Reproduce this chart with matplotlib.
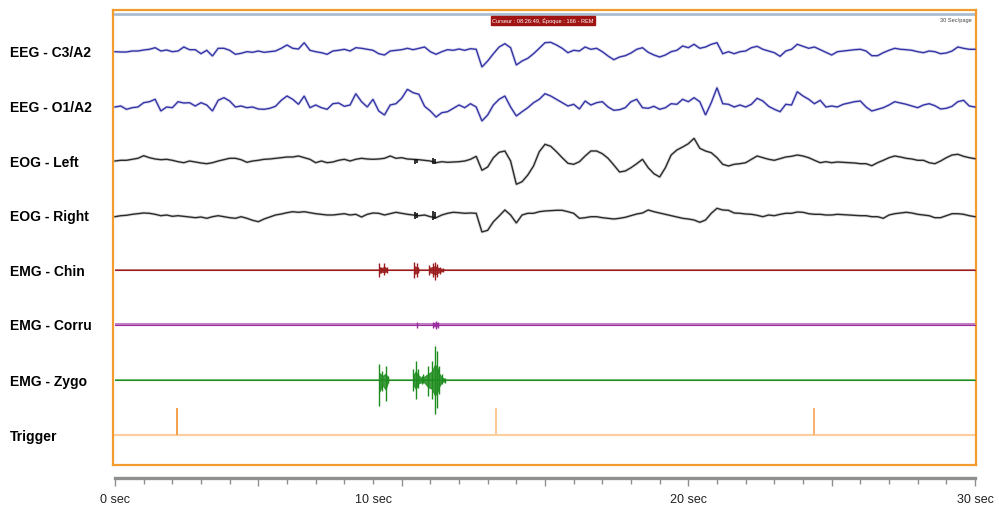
import numpy as np
import matplotlib
matplotlib.use("Agg")
import matplotlib.pyplot as plt
from matplotlib.transforms import blended_transform_factory, offset_copy

# ---------------- data (amplitudes in uV, sampled every DT seconds) ----------------
DT = 0.2
eeg_c3 = [-7, -10, -10, 0, 0, 10, 17, 33, 0, 10, -7, 0, 40, 13, 13, -27, 7, -50, 27, 27,
          7, -33, -23, -7, -13, 0, -13, -7, 0, 27, 60, 27, 20, 83, 7, -7, -17, -33,
          0, 7, 17, 0, 33, 27, 17, 7, -27, -40, 0, 7, 13, 27, 13, 27, 40, -7, -33, -7,
          13, 7, 20, 7, 23, 17, -160, -100, -27, 40, 73, 33, -140, -100, -73, -27, 27, 83,
          87, 60, 27, -17, 7, 0, 40, 17, 27, -7, -50, -87, -60, -47, -20, 17, 33, -13, -40, -60,
          -40, -7, 7, 50, 33, 67, 27, 40, 67, 83, -27, -7, -27, -7, 0, 33, 47, 17,
          0, -17, -53, 0, 17, 67, 47, 27, 40, 13, -13, -40, -7, 0, 7, 13, 17, 0, -47, -47,
          -17, 7, 27, 17, 13, 7, -7, -17, 0, -7, -27, -20, 0, 40, 27, 17, 17]
eeg_o1 = [-10, 0, -33, -17, -10, 33, 43, 67, -50, -10, -17, 43, 30, 33, 0, 33, 10, -50, 57, 83,
          50, -10, 0, -17, -10, -30, -33, -23, -3, 57, 100, 67, 17, 100, -17, 10, -17, -33,
          23, 30, -3, 10, 123, 43, -10, 67, -50, -90, 10, 23, 77, 167, 133, 117, -3, -50, -110, -67,
          -57, -23, 10, -17, 23, -10, -150, -90, 10, 67, 100, -10, -100, -57, -17, 33, 67, 123,
          100, 67, 33, 0, 17, -30, 50, 10, 33, 43, -10, -43, -37, -17, 43, 67, -17, -23, -3, -33,
          -17, 23, 17, 67, 43, 83, 43, -90, 33, 183, 23, 17, -10, 10, -10, 17, 77, 50,
          -3, -33, -57, 17, 10, 143, 100, 67, 23, 57, -10, 0, -10, 17, 30, 43, 50, -10, -50, -33,
          -17, 10, 43, 30, 17, 0, -17, 10, 23, 3, -30, -23, -3, 43, 57, 0, -10]
eog_left = [0, 7, 7, 17, 27, 53, 33, 20, 13, 17, 7, -7, -17, 0, -10, -20, -27, -17, 0, 13,
            27, 27, 13, -13, 0, 7, 17, 20, 27, 33, 40, 40, 50, 33, 17, -17, 0, -17,
            -10, 7, 17, 0, 17, 27, 20, 17, 20, 27, 50, 27, 33, 20, 17, 13, 7, 0, -17, -7,
            -13, -10, -7, 0, 17, 47, -93, -60, 33, 87, 100, 0, -233, -207, -140, -50, 93, 167,
            147, 93, 33, -23, -33, -7, 50, 100, 100, 73, 27, -40, -110, -100, -67, -27, 17, -67, -127, -160,
            -67, 60, 110, 140, 173, 227, 127, 100, 83, 33, -33, -50, -33, -27, -17, 17, 50, 33,
            17, 7, 23, 40, 47, 60, 50, 33, 7, -17, -7, -17, -10, -13, -17, -20, -27, -27, -47, -17,
            7, 33, 50, 40, 27, 20, 7, 7, -17, -27, 0, 33, 60, 67, 47, 33, 23]
eog_right = [-17, -7, -3, 7, 13, 20, 17, 7, -7, 0, -13, -7, -13, -20, -27, -20, -33, -17, -7, -17,
             -27, -33, -17, -33, -53, -67, -40, -20, 0, 10, 23, 33, 27, 33, 23, 13, 7, 0,
             0, 7, 13, 0, 7, -20, 7, 20, 17, 0, 13, 27, 17, 7, 0, -7, 0, -17, -27, 0,
             17, 27, 23, 17, 20, 17, -170, -153, -67, -10, 50, 0, -80, 0, 17, 17, 33, 40,
             43, 47, 47, 33, 17, -33, -27, -17, -17, -27, -33, -40, -33, -23, -7, 10, 20, 50, 33, 20,
             7, -7, -20, -33, -40, -50, -73, -50, 17, 67, 50, 47, 20, 17, 10, 7, -3, -17,
             0, -7, 7, 17, 17, 30, 27, 13, 7, 7, 0, 0, 7, 3, 0, -3, -7, -7, -17, -17,
             -33, 0, 13, 20, 27, 20, 7, 0, -7, -27, -27, -7, 13, 13, 7, -7, -17]

# EMG bursts: spike times (s), upward and downward excursion (uV)
chin_t = [9.22, 9.28, 9.40, 9.48, 10.44, 10.52, 10.58, 10.97, 11.08, 11.16, 11.24, 11.34, 11.45]
chin_up = [67, 33, 73, 27, 83, 67, 33, 50, 67, 83, 60, 33, 17]
chin_dn = [67, 33, 50, 27, 83, 67, 33, 50, 67, 100, 67, 40, 17]
corru_t = [10.52, 11.10, 11.19, 11.27]
corru_up = [30, 30, 40, 30]
corru_dn = [30, 33, 43, 33]
zygo_t = [9.22, 9.33, 9.44, 9.53, 10.41, 10.49, 10.58, 10.70, 10.75,
          10.93, 11.05, 11.16, 11.24, 11.31, 11.40, 11.51]
zygo_up = [157, 90, 140, 40, 107, 190, 107, 40, 57, 140, 190, 340, 290, 140, 57, 23]
zygo_dn = [260, 110, 210, 30, 110, 193, 77, 43, 27, 160, 193, 343, 277, 143, 43, 27]
eogl_art_t = [10.46, 10.52, 11.08, 11.16]
eogl_art_a = [25, 20, 30, 25]
eogr_art_t = [10.46, 10.52, 11.08, 11.16]
eogr_art_a = [35, 25, 45, 35]
emg_noise = {"chin": 12, "corru": 15, "zygo": 12}

trigger_t = [2.15, 13.29, 24.4]
trigger_h = 270

channels = ["EEG - C3/A2", "EEG - O1/A2", "EOG - Left", "EOG - Right",
            "EMG - Chin", "EMG - Corru", "EMG - Zygo", "Trigger"]
time_labels = ["0 sec", "10 sec", "20 sec", "30 sec"]
time_label_secs = [0, 10, 20, 30]
time_label_shift_px = [0, -28, 0, 0]
header_text = "Curseur : 08:26:49, Époque : 166 - REM"
page_text = "30 Sec/page"

# ---------------- layout ----------------
W, H = 999, 509
fig = plt.figure(figsize=(W / 100, H / 100), dpi=100)
fig.patch.set_facecolor("white")
plt.rcParams["font.family"] = ["Liberation Sans", "DejaVu Sans"]

X0, X30 = 115, 975
PPS = (X30 - X0) / 30.0
FL, FR, FT, FB = 113, 976, 10, 465
GAIN = 0.1  # px per uV

ax = fig.add_axes([FL / W, 1 - FB / H, (FR - FL) / W, (FB - FT) / H])
ax.set_xlim(-(X0 - FL) / PPS, 30 + (FR - X30) / PPS)
ax.set_ylim(0, FB - FT)
ax.set_xticks([])
ax.set_yticks([])
for s in ax.spines.values():
    s.set_color("#f29b2e")
    s.set_linewidth(1.6)

base_px = [51, 106, 161, 215, 270, 324.5, 380, 434.5]
base = [FB - b for b in base_px]


def trace(vals, b, color, lw=1.0):
    v = np.asarray(vals, dtype=float)
    t = np.arange(len(v)) * DT
    y = b + GAIN * v
    ax.plot(t, y, color=color, lw=2.2, alpha=0.18, solid_joinstyle="round", zorder=2)
    ax.plot(t, y, color=color, lw=lw, solid_joinstyle="miter", zorder=3)


trace(eeg_c3, base[0], "#3434a6")
trace(eeg_o1, base[1], "#3434a6")
trace(eog_left, base[2], "#2b2b2b")
trace(eog_right, base[3], "#2b2b2b")

# EOG artefacts
for tt, aa, b in [(eogl_art_t, eogl_art_a, base[2]), (eogr_art_t, eogr_art_a, base[3])]:
    tt = np.array(tt)
    aa = np.array(aa) * GAIN
    ax.vlines(tt, b - aa, b + aa, color="#111111", lw=1.2, zorder=3)


def emg(ts, up, dn, noise, b, color):
    ax.fill_between([0, 30], b - noise * GAIN, b + noise * GAIN, color=color,
                    alpha=0.6, lw=0, zorder=2)
    ax.plot([0, 30], [b, b], color=color, lw=0.8, zorder=3)
    ts = np.array(ts)
    up = np.array(up) * GAIN
    dn = np.array(dn) * GAIN
    groups = np.split(np.arange(len(ts)), np.where(np.diff(ts) > 0.3)[0] + 1)
    for g in groups:
        ax.fill_between(ts[g], b - 0.45 * dn[g], b + 0.45 * up[g], color=color,
                        alpha=0.85, lw=0.8, zorder=3)
    ax.vlines(ts, b - dn, b + up, color=color, lw=1.0, zorder=3)


emg(chin_t, chin_up, chin_dn, emg_noise["chin"], base[4], "#9b1c1c")
emg(corru_t, corru_up, corru_dn, emg_noise["corru"], base[5], "#9a2d9e")
emg(zygo_t, zygo_up, zygo_dn, emg_noise["zygo"], base[6], "#1e8c1e")

# trigger
ax.plot([0, 30], [base[7], base[7]], color="#fdcfa0", lw=1.6, zorder=2)
ax.vlines(trigger_t, base[7], base[7] + trigger_h * GAIN,
          colors=["#f5a04a", "#f9c896", "#f7b070"], lw=1.4, zorder=3)

# header bar
ax.plot([0, 30], [FB - 13.7, FB - 13.7], color="#a9bdd1", lw=2.0, zorder=2)
fig.text(543 / W, 1 - 20.5 / H, header_text, color="white", fontsize=4.1,
         ha="center", va="center",
         bbox=dict(boxstyle="square,pad=0.25", fc="#a01414", ec="#a01414"))
fig.text(972 / W, 1 - 20.5 / H, page_text, color="#444444", fontsize=4.1,
         ha="right", va="center")

# channel labels
for name, bp in zip(channels, base_px):
    fig.text(10 / W, 1 - (bp + 2) / H, name, fontsize=10, fontweight="bold",
             ha="left", va="center", color="black")

# time ruler
RY = 478
ax2 = fig.add_axes([X0 / W, 1 - RY / H, (X30 - X0) / W, 0.0005])
ax2.set_xlim(0, 30)
ax2.set_ylim(0, 1)
ax2.patch.set_alpha(0)
for k in ["top", "left", "right"]:
    ax2.spines[k].set_visible(False)
ax2.spines["bottom"].set_color("#8f8f8f")
ax2.spines["bottom"].set_linewidth(2.4)
ax2.set_yticks([])
ax2.set_xticks(np.arange(0, 31, 5))
ax2.set_xticks(np.arange(0, 31, 1), minor=True)
ax2.tick_params(axis="x", which="major", length=6, width=1, color="#8f8f8f", labelbottom=False)
ax2.tick_params(axis="x", which="minor", length=4, width=1, color="#8f8f8f")
tr = blended_transform_factory(ax2.transData, fig.transFigure)
for lab, sec, sh in zip(time_labels, time_label_secs, time_label_shift_px):
    t2 = offset_copy(tr, fig=fig, x=sh * 72 / 100, units="points")
    ax2.text(sec, 1 - 500 / H, lab, transform=t2, fontsize=9, ha="center",
             va="center", color="#222222")

fig.savefig("out.png", dpi=100)
